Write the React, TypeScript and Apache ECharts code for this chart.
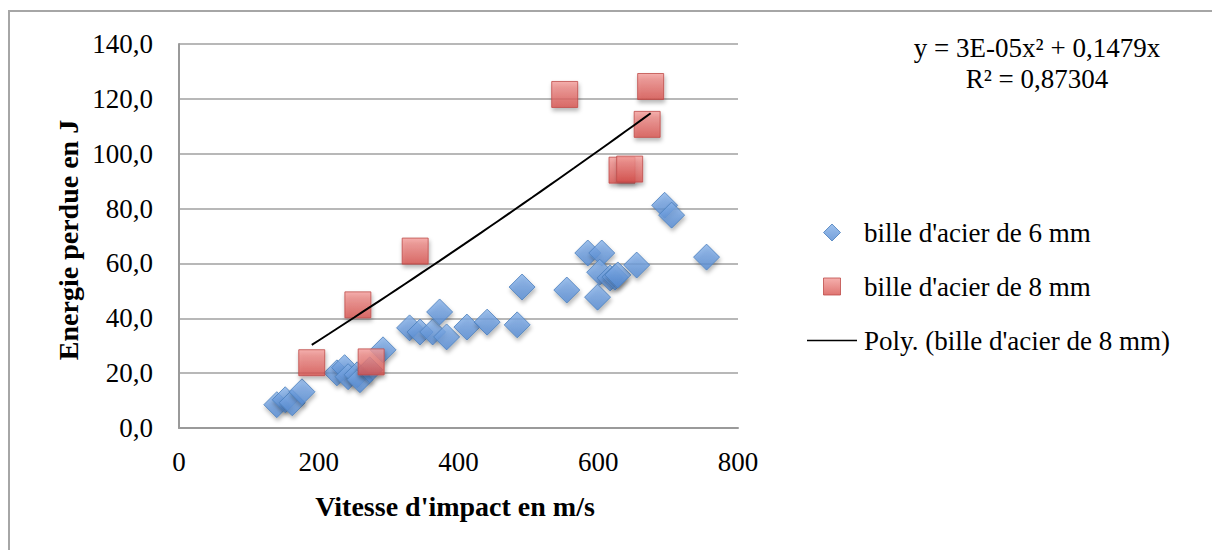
import React, { useEffect, useRef } from "react";
import * as echarts from "echarts";

// Bille d'acier de 6 mm
const blueX = [140, 152, 162, 176, 226, 237, 242, 255, 259, 273, 292, 330, 345, 363, 373, 383, 412, 441, 484, 491, 555, 585, 605, 602, 599, 617, 624, 628, 655, 755, 695, 705];
const blueY = [8.5, 10.3, 9.2, 13.2, 20.1, 22.0, 18.7, 19.4, 17.6, 21.2, 28.5, 36.5, 35.0, 35.0, 42.3, 33.2, 36.8, 38.6, 37.6, 51.4, 50.3, 63.8, 63.8, 56.8, 47.7, 54.7, 55.0, 55.8, 59.4, 62.3, 81.2, 77.6];
// Bille d'acier de 8 mm
const redX = [190, 275, 256, 338, 552, 675, 670, 634, 645];
const redY = [23.8, 24.1, 44.9, 64.5, 121.6, 124.5, 110.7, 94.0, 94.4];

const seriesNames = ["bille d'acier de 6 mm", "bille d'acier de 8 mm", "Poly. (bille d'acier de 8 mm)"];
const equationLines = ["y = 3E-05x² + 0,1479x", "R² = 0,87304"];
const xTitle = "Vitesse d'impact en m/s";
const yTitle = "Energie perdue en J";

const FONT = "Liberation Serif";

// Polynomial (order 2, intercept 0) least-squares trendline from the 8 mm data
function fitTrend(xs: number[], ys: number[]) {
  let s4 = 0, s3 = 0, s2 = 0, sx2y = 0, sxy = 0;
  for (let i = 0; i < xs.length; i++) {
    const x = xs[i], y = ys[i];
    s4 += x ** 4; s3 += x ** 3; s2 += x ** 2; sx2y += x * x * y; sxy += x * y;
  }
  const det = s4 * s2 - s3 * s3;
  const a = (sx2y * s2 - s3 * sxy) / det;
  const b = (s4 * sxy - s3 * sx2y) / det;
  const lo = Math.min(...xs), hi = Math.max(...xs);
  const pts: number[][] = [];
  const n = 40;
  for (let i = 0; i <= n; i++) {
    const x = lo + ((hi - lo) * i) / n;
    pts.push([x, a * x * x + b * x]);
  }
  return pts;
}

export default function App() {
  const ref = useRef<HTMLDivElement>(null);
  useEffect(() => {
    if (!ref.current) return;
    const chart = echarts.init(ref.current, null, { renderer: "svg" });
    const blueData = blueX.map((x, i) => [x, blueY[i]]);
    const redData = redX.map((x, i) => [x, redY[i]]);
    const trend = fitTrend(redX, redY);
    const shadow = { shadowBlur: 4, shadowOffsetX: 1, shadowOffsetY: 3, shadowColor: "rgba(0,0,0,0.35)" };
    const blueFill = new echarts.graphic.LinearGradient(0, 0, 0, 1, [
      { offset: 0, color: "#86b1e8" },
      { offset: 1, color: "#5389d2" },
    ]);
    const redFill = new echarts.graphic.LinearGradient(0, 0, 0, 1, [
      { offset: 0, color: "#f39c99" },
      { offset: 1, color: "#d7524e" },
    ]);
    chart.setOption({
      animation: false,
      backgroundColor: "#ffffff",
      textStyle: { fontFamily: FONT },
      grid: { left: 179, right: 474, top: 44, bottom: 122, containLabel: false },
      xAxis: {
        type: "value",
        min: 0,
        max: 800,
        interval: 200,
        axisLine: { show: true, lineStyle: { color: "#9a9a9a", width: 2 } },
        axisTick: { show: false },
        splitLine: { show: false },
        axisLabel: { color: "#000", fontFamily: FONT, fontSize: 27, margin: 20 },
      },
      yAxis: {
        type: "value",
        min: 0,
        max: 140,
        interval: 20,
        axisLine: { show: true, lineStyle: { color: "#9a9a9a", width: 2 } },
        axisTick: { show: false },
        splitLine: { show: true, lineStyle: { color: "#a0a0a0", width: 1.5 } },
        axisLabel: {
          color: "#000",
          fontFamily: FONT,
          fontSize: 27,
          margin: 26,
          formatter: (v: number) => v.toFixed(1).replace(".", ","),
        },
      },
      legend: {
        orient: "vertical",
        left: 807,
        top: 219,
        padding: 0,
        itemWidth: 50,
        itemHeight: 17,
        itemGap: 27,
        symbolKeepAspect: true,
        textStyle: { color: "#000", fontFamily: FONT, fontSize: 27, padding: [0, 0, 0, 2] },
        data: [
          { name: seriesNames[0], icon: "path://M0,1 L1,0 L2,1 L1,2 Z", itemStyle: { color: blueFill, borderColor: "#4a7ebb", borderWidth: 1 } },
          { name: seriesNames[1], icon: "path://M0,0 H1 V1 H0 Z", itemStyle: { color: redFill, borderColor: "#be4b48", borderWidth: 1 } },
          { name: seriesNames[2], icon: "path://M0,0 H50 V1.6 H0 Z", itemStyle: { color: "#000", borderWidth: 0 } },
        ],
      },
      series: [
        {
          name: seriesNames[0],
          type: "scatter",
          symbol: "diamond",
          symbolSize: 26,
          symbolKeepAspect: true,
          z: 2,
          itemStyle: { color: blueFill, borderColor: "#4a7ebb", borderWidth: 1, ...shadow },
          data: blueData,
        },
        {
          name: seriesNames[1],
          type: "scatter",
          symbol: "rect",
          symbolSize: 26,
          symbolKeepAspect: true,
          z: 3,
          itemStyle: { color: redFill, borderColor: "#be4b48", borderWidth: 1, ...shadow },
          data: redData,
        },
        {
          name: seriesNames[2],
          type: "line",
          showSymbol: false,
          symbol: "none",
          smooth: false,
          z: 4,
          lineStyle: { color: "#000", width: 2 },
          itemStyle: { color: "#000" },
          data: trend,
        },
      ],
      graphic: [
        {
          type: "rect",
          silent: true,
          shape: { x: 9, y: 11, width: 1300, height: 700 },
          style: { fill: "none", stroke: "#a6a6a6", lineWidth: 2 },
        },
        {
          type: "text",
          x: 1037,
          y: 48,
          style: { text: equationLines[0], font: `27px "${FONT}"`, fill: "#000", textAlign: "center", textVerticalAlign: "middle" },
        },
        {
          type: "text",
          x: 1037,
          y: 79,
          style: { text: equationLines[1], font: `27px "${FONT}"`, fill: "#000", textAlign: "center", textVerticalAlign: "middle" },
        },
        {
          type: "text",
          x: 455,
          y: 506,
          style: { text: xTitle, font: `bold 28px "${FONT}"`, fill: "#000", textAlign: "center", textVerticalAlign: "middle" },
        },
        {
          type: "text",
          x: 68,
          y: 240,
          rotation: Math.PI / 2,
          style: { text: yTitle, font: `bold 28px "${FONT}"`, fill: "#000", textAlign: "center", textVerticalAlign: "middle" },
        },
      ],
    });
    return () => chart.dispose();
  }, []);
  return (
    <div
      ref={ref}
      style={{ position: "absolute", left: 0, top: 0, width: 1212, height: 550, background: "#fff" }}
    />
  );
}
